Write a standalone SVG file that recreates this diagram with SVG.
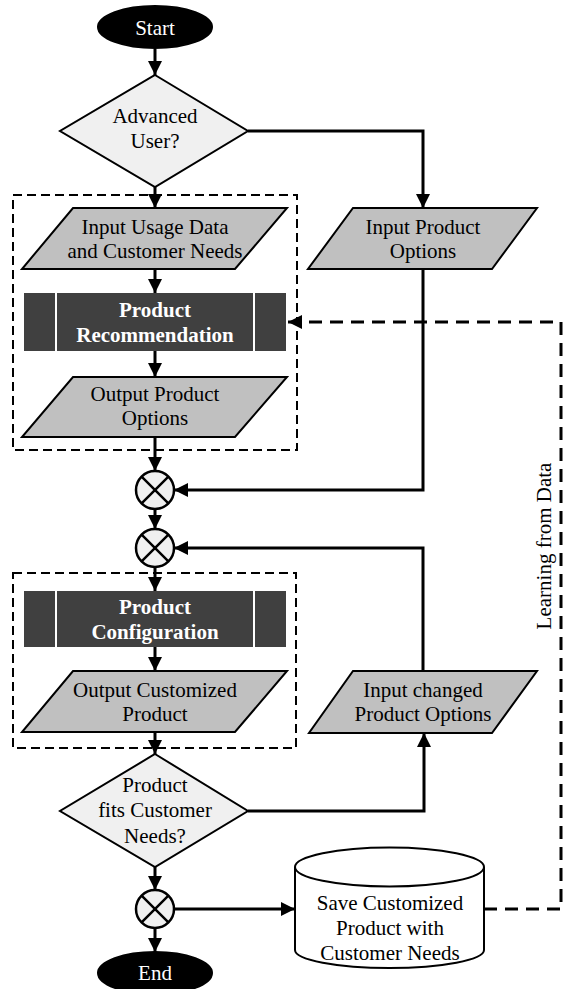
<svg xmlns="http://www.w3.org/2000/svg" width="564" height="989" viewBox="0 0 564 989">
  <style>
    text { font-family: "Liberation Serif", "Times New Roman", serif; font-size: 21px; text-anchor: middle; fill: #000; }
    .wt { fill: #fff; }
    .bold { font-weight: bold; fill: #fff; }
    .term { fill: #000; stroke: #000; stroke-width: 2; }
    .dec { fill: #f0f0f0; stroke: #000; stroke-width: 2; }
    .io { fill: #c0c0c0; stroke: #000; stroke-width: 2; }
    .proc { fill: #404040; }
    .sep { stroke: #fff; stroke-width: 2; }
    .join { fill: #f0f0f0; stroke: #000; stroke-width: 2.5; }
    .store { fill: #fff; stroke: #000; stroke-width: 2; }
    .group { fill: none; stroke: #000; stroke-width: 2; stroke-dasharray: 9 5; }
    .flow { fill: none; stroke: #000; stroke-width: 3; marker-end: url(#arrow); }
    .learn { fill: none; stroke: #000; stroke-width: 3; stroke-dasharray: 13 8; marker-end: url(#arrow); }
  </style>
  <defs>
    <marker id="arrow" viewBox="0 0 10 10" refX="10" refY="5" markerWidth="14" markerHeight="14" markerUnits="userSpaceOnUse" orient="auto">
      <path d="M0,0 L10,5 L0,10 z" fill="#000"/>
    </marker>
  </defs>

  <!-- dashed groupings -->
  <rect class="group" x="13" y="195" width="284" height="255"/>
  <rect class="group" x="13" y="573" width="283" height="175"/>

  <!-- connectors -->
  <g id="connectors">
    <path class="flow" d="M155,49 V75"/>
    <path class="flow" d="M155,187 V208"/>
    <path class="flow" d="M248,131 H423 V208"/>
    <path class="flow" d="M155,269 V293"/>
    <path class="flow" d="M155,351 V377"/>
    <path class="flow" d="M155,437 V471"/>
    <path class="flow" d="M423,269 V490 H174"/>
    <path class="flow" d="M155,509 V529"/>
    <path class="flow" d="M423,671 V548 H174"/>
    <path class="flow" d="M155,567 V591"/>
    <path class="flow" d="M155,647 V671"/>
    <path class="flow" d="M155,732 V754"/>
    <path class="flow" d="M248,811 H424 V733"/>
    <path class="flow" d="M155,867 V890"/>
    <path class="flow" d="M155,928 V952"/>
    <path class="flow" d="M174,909 H295"/>
    <path class="learn" d="M484,909 H561 V322 H288"/>
    <text x="0" y="0" transform="translate(551,546) rotate(-90)">Learning from Data</text>
  </g>

  <g id="start">
    <ellipse class="term" cx="155" cy="27" rx="57" ry="21"/>
    <text class="wt" x="155" y="35">Start</text>
  </g>

  <g id="advanced-user">
    <polygon class="dec" points="155,75 248,131 155,187 60,131"/>
    <text x="155" y="123">Advanced</text>
    <text x="155" y="148">User?</text>
  </g>

  <g id="input-usage-data">
    <polygon class="io" points="73,208 287,208 235,269 22,269"/>
    <text x="155" y="234">Input Usage Data</text>
    <text x="155" y="258">and Customer Needs</text>
  </g>

  <g id="input-product-options">
    <polygon class="io" points="353,208 537,208 492,269 308,269"/>
    <text x="423" y="234">Input Product</text>
    <text x="423" y="258">Options</text>
  </g>

  <g id="product-recommendation">
    <rect class="proc" x="24" y="293" width="262" height="58"/>
    <line class="sep" x1="56" y1="293" x2="56" y2="351"/>
    <line class="sep" x1="254" y1="293" x2="254" y2="351"/>
    <text class="bold" x="155" y="317">Product</text>
    <text class="bold" x="155" y="342">Recommendation</text>
  </g>

  <g id="output-product-options">
    <polygon class="io" points="73,377 287,377 235,437 22,437"/>
    <text x="155" y="401">Output Product</text>
    <text x="155" y="425">Options</text>
  </g>

  <g id="merge-1">
    <circle class="join" cx="155" cy="490" r="19"/>
    <path d="M141.6,476.6 L168.4,503.4 M168.4,476.6 L141.6,503.4" stroke="#000" stroke-width="2.5"/>
  </g>

  <g id="merge-2">
    <circle class="join" cx="155" cy="548" r="19"/>
    <path d="M141.6,534.6 L168.4,561.4 M168.4,534.6 L141.6,561.4" stroke="#000" stroke-width="2.5"/>
  </g>

  <g id="product-configuration">
    <rect class="proc" x="24" y="591" width="262" height="56"/>
    <line class="sep" x1="56" y1="591" x2="56" y2="647"/>
    <line class="sep" x1="254" y1="591" x2="254" y2="647"/>
    <text class="bold" x="155" y="614">Product</text>
    <text class="bold" x="155" y="639">Configuration</text>
  </g>

  <g id="output-customized-product">
    <polygon class="io" points="73,671 287,671 235,732 22,732"/>
    <text x="155" y="697">Output Customized</text>
    <text x="155" y="721">Product</text>
  </g>

  <g id="input-changed-options">
    <polygon class="io" points="353,671 537,671 492,733 309,733"/>
    <text x="423" y="697">Input changed</text>
    <text x="423" y="721">Product Options</text>
  </g>

  <g id="fits-needs">
    <polygon class="dec" points="155,754 248,811 155,867 60,811"/>
    <text x="155" y="792">Product</text>
    <text x="155" y="817">fits Customer</text>
    <text x="155" y="843">Needs?</text>
  </g>

  <g id="merge-3">
    <circle class="join" cx="155" cy="909" r="19"/>
    <path d="M141.6,895.6 L168.4,922.4 M168.4,895.6 L141.6,922.4" stroke="#000" stroke-width="2.5"/>
  </g>

  <g id="save-product">
    <path class="store" d="M295,867 V950 A94.5,18 0 0 0 484,950 V867 A94.5,19.5 0 0 0 295,867 Z"/>
    <path class="store" fill="none" d="M295,867 A94.5,19.5 0 0 0 484,867"/>
    <text x="390" y="910">Save Customized</text>
    <text x="390" y="935">Product with</text>
    <text x="390" y="960">Customer Needs</text>
  </g>

  <g id="end">
    <ellipse class="term" cx="155" cy="973" rx="57" ry="21"/>
    <text class="wt" x="155" y="980">End</text>
  </g>
</svg>
